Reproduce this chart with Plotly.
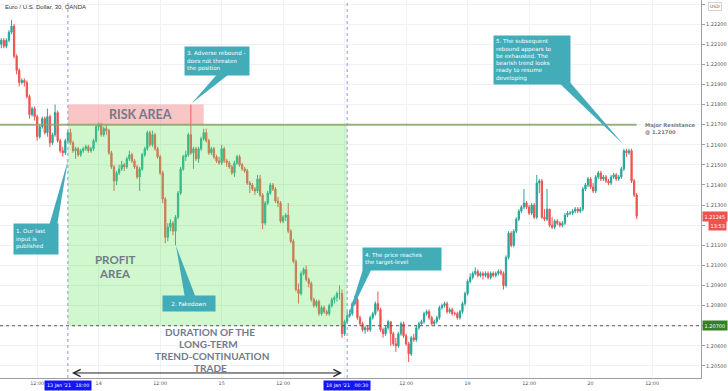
import plotly.graph_objects as go

# ---------------- data (EUR/USD, 30-min bars, OANDA) ----------------
first_open = 1.2210
close = [
    1.2212, 1.2209, 1.2212, 1.2216, 1.2219, 1.2204, 1.2197, 1.2191, 1.2192, 1.2191,
    1.2184, 1.2175, 1.2178, 1.2174, 1.2164, 1.2169, 1.2173, 1.2166, 1.2174, 1.2161,
    1.2165, 1.2176, 1.2162, 1.2157, 1.2156, 1.2162, 1.2166, 1.2161, 1.2157, 1.2158,
    1.2155, 1.2157, 1.2158, 1.2159, 1.2157, 1.2158, 1.2162, 1.2169, 1.2170, 1.2165,
    1.2168, 1.2167, 1.2156, 1.2149, 1.2142, 1.2146, 1.2148, 1.2150, 1.2149, 1.2153,
    1.2155, 1.2152, 1.2149, 1.2144, 1.2148, 1.2155, 1.2158, 1.2166, 1.2160, 1.2165,
    1.2158, 1.2154, 1.2146, 1.2133, 1.2114, 1.2119, 1.2121, 1.2117, 1.2124, 1.2136,
    1.2148, 1.2154, 1.2155, 1.2165, 1.2156, 1.2158, 1.2153, 1.2158, 1.2163, 1.2166,
    1.2162, 1.2156, 1.2158, 1.2154, 1.2152, 1.2151, 1.2158, 1.2152, 1.2151, 1.2149,
    1.2146, 1.2151, 1.2154, 1.2150, 1.2148, 1.2147, 1.2141, 1.2140, 1.2138, 1.2137,
    1.2143, 1.2135, 1.2121, 1.2131, 1.2136, 1.2140, 1.2138, 1.2132, 1.2131, 1.2122,
    1.2124, 1.2125, 1.2117, 1.2112, 1.2102, 1.2088, 1.2086, 1.2096, 1.2098, 1.2093,
    1.2091, 1.2083, 1.2080, 1.2082, 1.2076, 1.2079, 1.2077, 1.2076, 1.2080, 1.2083,
    1.2084, 1.2086, 1.2086, 1.2066, 1.2072, 1.2075, 1.2076, 1.2081, 1.2083, 1.2074,
    1.2071, 1.2068, 1.2069, 1.2068, 1.2074, 1.2076, 1.2081, 1.2078, 1.2068, 1.2066,
    1.2069, 1.2072, 1.2066, 1.2061, 1.2060, 1.2066, 1.2071, 1.2065, 1.2061, 1.2056,
    1.2064, 1.2063, 1.2069, 1.2071, 1.2072, 1.2076, 1.2077, 1.2074, 1.2071, 1.2072,
    1.2074, 1.2079, 1.2080, 1.2081, 1.2077, 1.2078, 1.2076, 1.2076, 1.2074, 1.2077,
    1.2081, 1.2086, 1.2092, 1.2094, 1.2096, 1.2097, 1.2095, 1.2096, 1.2095, 1.2096,
    1.2094, 1.2096, 1.2095, 1.2096, 1.2097, 1.2096, 1.2090, 1.2104, 1.2116, 1.2110,
    1.2117, 1.2123, 1.2127, 1.2129, 1.2131, 1.2129, 1.2126, 1.2130, 1.2124, 1.2141,
    1.2142, 1.2124, 1.2123, 1.2128, 1.2120, 1.2119, 1.2122, 1.2121, 1.2120, 1.2121,
    1.2125, 1.2126, 1.2126, 1.2127, 1.2128, 1.2127, 1.2128, 1.2138, 1.2140, 1.2143,
    1.2139, 1.2137, 1.2144, 1.2146, 1.2143, 1.2144, 1.2142, 1.2141, 1.2144, 1.2145,
    1.2143, 1.2144, 1.2148, 1.2157, 1.2156, 1.2157, 1.2142, 1.2135, 1.21245,
]
high = [
    1.2213, 1.2213, 1.2213, 1.2217, 1.2222, 1.2220, 1.2205, 1.2198, 1.2193, 1.2193,
    1.2192, 1.2185, 1.2179, 1.2179, 1.2175, 1.2170, 1.2174, 1.2174, 1.2178, 1.2175,
    1.2166, 1.2180, 1.2177, 1.2163, 1.2159, 1.2163, 1.2167, 1.2168, 1.2162, 1.2159,
    1.2159, 1.2158, 1.2159, 1.2160, 1.2160, 1.2159, 1.2163, 1.2170, 1.2171, 1.2171,
    1.2169, 1.2170, 1.2168, 1.2157, 1.2150, 1.2147, 1.2150, 1.2152, 1.2151, 1.2154,
    1.2157, 1.2156, 1.2153, 1.2150, 1.2149, 1.2156, 1.2159, 1.2167, 1.2167, 1.2167,
    1.2166, 1.2159, 1.2155, 1.2147, 1.2134, 1.2121, 1.2123, 1.2122, 1.2125, 1.2137,
    1.2149, 1.2155, 1.2157, 1.2166, 1.2180, 1.2159, 1.2159, 1.2159, 1.2164, 1.2168,
    1.2168, 1.2163, 1.2159, 1.2159, 1.2155, 1.2154, 1.2160, 1.2159, 1.2153, 1.2152,
    1.2150, 1.2152, 1.2155, 1.2155, 1.2151, 1.2149, 1.2148, 1.2142, 1.2141, 1.2139,
    1.2145, 1.2145, 1.2136, 1.2132, 1.2137, 1.2141, 1.2141, 1.2139, 1.2134, 1.2132,
    1.2125, 1.2126, 1.2131, 1.2118, 1.2113, 1.2103, 1.2091, 1.2097, 1.2099, 1.2100,
    1.2094, 1.2092, 1.2084, 1.2083, 1.2083, 1.2080, 1.2080, 1.2078, 1.2081, 1.2084,
    1.2085, 1.2087, 1.2090, 1.2088, 1.2073, 1.2077, 1.2078, 1.2082, 1.2085, 1.2084,
    1.2075, 1.2072, 1.2070, 1.2070, 1.2075, 1.2077, 1.2082, 1.2087, 1.2079, 1.2069,
    1.2070, 1.2073, 1.2072, 1.2067, 1.2064, 1.2067, 1.2072, 1.2072, 1.2066, 1.2062,
    1.2065, 1.2066, 1.2070, 1.2072, 1.2073, 1.2077, 1.2078, 1.2078, 1.2075, 1.2073,
    1.2075, 1.2080, 1.2081, 1.2082, 1.2082, 1.2079, 1.2079, 1.2077, 1.2077, 1.2078,
    1.2082, 1.2087, 1.2093, 1.2096, 1.2097, 1.2099, 1.2098, 1.2097, 1.2097, 1.2097,
    1.2097, 1.2097, 1.2097, 1.2097, 1.2098, 1.2098, 1.2097, 1.2105, 1.2117, 1.2117,
    1.2118, 1.2124, 1.2128, 1.2130, 1.2138, 1.2132, 1.2130, 1.2131, 1.2131, 1.2145,
    1.2143, 1.2143, 1.2128, 1.2138, 1.2128, 1.2124, 1.2123, 1.2123, 1.2122, 1.2122,
    1.2126, 1.2127, 1.2127, 1.2128, 1.2129, 1.2129, 1.2129, 1.2139, 1.2141, 1.2144,
    1.2144, 1.2141, 1.2145, 1.2147, 1.2147, 1.2145, 1.2145, 1.2143, 1.2145, 1.2146,
    1.2146, 1.2145, 1.2149, 1.2158, 1.2158, 1.2158, 1.2158, 1.2143, 1.2136,
]
low = [
    1.2208, 1.2208, 1.2208, 1.2211, 1.2215, 1.2203, 1.2195, 1.2189, 1.2190, 1.2189,
    1.2183, 1.2173, 1.2174, 1.2172, 1.2162, 1.2163, 1.2168, 1.2165, 1.2164, 1.2159,
    1.2160, 1.2164, 1.2161, 1.2156, 1.2154, 1.2155, 1.2161, 1.2160, 1.2156, 1.2153,
    1.2154, 1.2154, 1.2156, 1.2157, 1.2156, 1.2156, 1.2157, 1.2161, 1.2167, 1.2164,
    1.2164, 1.2165, 1.2155, 1.2148, 1.2137, 1.2140, 1.2145, 1.2147, 1.2147, 1.2148,
    1.2152, 1.2151, 1.2148, 1.2143, 1.2137, 1.2147, 1.2154, 1.2157, 1.2159, 1.2159,
    1.2157, 1.2153, 1.2145, 1.2131, 1.2111, 1.2112, 1.2117, 1.2115, 1.2110, 1.2123,
    1.2135, 1.2147, 1.2152, 1.2154, 1.2155, 1.2148, 1.2152, 1.2151, 1.2157, 1.2162,
    1.2161, 1.2155, 1.2155, 1.2153, 1.2151, 1.2150, 1.2150, 1.2151, 1.2149, 1.2148,
    1.2145, 1.2144, 1.2150, 1.2149, 1.2147, 1.2146, 1.2140, 1.2136, 1.2137, 1.2135,
    1.2136, 1.2134, 1.2118, 1.2120, 1.2130, 1.2135, 1.2137, 1.2131, 1.2129, 1.2121,
    1.2121, 1.2122, 1.2116, 1.2111, 1.2101, 1.2087, 1.2081, 1.2085, 1.2095, 1.2092,
    1.2089, 1.2082, 1.2079, 1.2079, 1.2075, 1.2075, 1.2076, 1.2075, 1.2075, 1.2079,
    1.2081, 1.2082, 1.2083, 1.2064, 1.2065, 1.2071, 1.2074, 1.2075, 1.2080, 1.2073,
    1.2070, 1.2067, 1.2066, 1.2067, 1.2067, 1.2073, 1.2075, 1.2077, 1.2067, 1.2064,
    1.2065, 1.2068, 1.2060, 1.2060, 1.2057, 1.2059, 1.2065, 1.2064, 1.2060, 1.2052,
    1.2055, 1.2062, 1.2062, 1.2068, 1.2070, 1.2071, 1.2075, 1.2073, 1.2070, 1.2070,
    1.2071, 1.2073, 1.2078, 1.2079, 1.2076, 1.2076, 1.2075, 1.2075, 1.2073, 1.2073,
    1.2076, 1.2080, 1.2085, 1.2091, 1.2093, 1.2095, 1.2094, 1.2094, 1.2093, 1.2094,
    1.2093, 1.2093, 1.2094, 1.2094, 1.2095, 1.2095, 1.2088, 1.2089, 1.2103, 1.2109,
    1.2109, 1.2116, 1.2122, 1.2126, 1.2128, 1.2128, 1.2125, 1.2125, 1.2123, 1.2123,
    1.2136, 1.2123, 1.2122, 1.2122, 1.2119, 1.2118, 1.2118, 1.2120, 1.2119, 1.2119,
    1.2120, 1.2124, 1.2125, 1.2125, 1.2126, 1.2126, 1.2126, 1.2127, 1.2137, 1.2139,
    1.2138, 1.2136, 1.2136, 1.2143, 1.2142, 1.2142, 1.2141, 1.2140, 1.2140, 1.2143,
    1.2142, 1.2142, 1.2143, 1.2147, 1.2154, 1.2155, 1.2141, 1.2134, 1.2123,
]
open_ = [first_open] + close[:-1]
bars = list(range(len(close)))

time_tick_bars = [14, 38, 62, 86, 110, 134, 158, 182, 206, 230, 254]
time_tick_labels = ["12:00", "14", "12:00", "15", "12:00", "", "12:00", "19", "12:00", "20", "12:00"]
price_ticks = [1.205, 1.206, 1.207, 1.208, 1.209, 1.210, 1.211, 1.212, 1.213, 1.214,
               1.215, 1.216, 1.217, 1.218, 1.219, 1.220, 1.221, 1.222, 1.223]
# labels hidden behind the price-axis badges are left blank
price_tick_labels = ["1.20500", "1.20600", "", "1.20800", "1.20900", "1.21000", "1.21100", "", "1.21300",
                     "1.21400", "1.21500", "1.21600", "1.21700", "1.21800", "1.21900", "1.22000",
                     "1.22100", "1.22200", ""]

entry_bar, entry_label = 26, "13 Jan '21   18:00"
target_bar, target_label = 135, "18 Jan '21   00:30"
risk_end_bar = 79
resistance = 1.2170
risk_top = 1.2180
target_level = 1.2070
last_price = 1.21245
countdown = "13:53"
arrow_level = 1.20465
arrow_start_bar, arrow_end_bar = 27, 133
last_bar = 248

callouts = [
    ("1. Our last<br>input is<br>published", "left"),
    ("2. Fakedown", "center"),
    ("3. Adverse rebound -<br>does not threaten<br>the position", "left"),
    ("4. The price reaches<br>the target-level", "left"),
    ("5. The subsequent<br>rebound appears to<br>be exhausted. The<br>bearish trend looks<br>ready to resume<br>developing", "left"),
]
# box (x0, y0, w, h) and tail (base a, base b, tip) in plot-area pixels
callout_boxes = [(13, 223, 44, 30), (162, 295, 52, 15), (184, 46, 64, 28), (362, 247, 78, 22), (493, 35, 76, 48)]
callout_tails = [
    ((49, 226), (57, 226), (68, 160)),
    ((185, 298), (196, 298), (176, 246)),
    ((220, 71), (233, 71), (192, 103)),
    ((364, 266), (373, 266), (347, 320)),
    ((556, 80), (568, 80), (623, 144)),
]

# ---------------- figure ----------------
W, H = 728, 391
ML, MR, MT, MB = 0, 27, 0, 13
PW, PH = W - ML - MR, H - MT - MB

def px(x):
    return x / PW

def py(y):
    return 1 - y / PH

TEAL = "#42adb9"
GREY_TXT = "#727a8b"

fig = go.Figure()
fig.add_trace(go.Candlestick(
    x=bars, open=open_, high=high, low=low, close=close,
    increasing=dict(line=dict(color="#26a69a", width=1), fillcolor="#26a69a"),
    decreasing=dict(line=dict(color="#ef5350", width=1), fillcolor="#ef5350"),
    whiskerwidth=0, showlegend=False, hoverinfo="skip",
))

shapes = [
    dict(type="rect", xref="x", yref="y", x0=entry_bar, x1=target_bar, y0=target_level, y1=resistance,
         fillcolor="rgba(100,230,90,0.30)", line=dict(width=0), layer="above"),
    dict(type="rect", xref="x", yref="y", x0=entry_bar, x1=risk_end_bar, y0=resistance, y1=risk_top,
         fillcolor="rgba(242,110,110,0.40)", line=dict(width=0), layer="above"),
    dict(type="line", xref="paper", yref="y", x0=0, x1=1, y0=target_level, y1=target_level,
         line=dict(color="#555555", width=1, dash="dot"), layer="above"),
    dict(type="line", xref="x", yref="y", x0=-0.5, x1=last_bar, y0=resistance, y1=resistance,
         line=dict(color="rgba(135,165,105,0.85)", width=2), layer="above"),
    dict(type="line", xref="x", yref="paper", x0=entry_bar, x1=entry_bar, y0=0, y1=1,
         line=dict(color="#9094e4", width=1, dash="dot"), layer="above"),
    dict(type="line", xref="x", yref="paper", x0=target_bar, x1=target_bar, y0=0, y1=1,
         line=dict(color="#9094e4", width=1, dash="dot"), layer="above"),
]
for (a, b, t) in callout_tails:
    path = f"M {px(a[0])},{py(a[1])} L {px(b[0])},{py(b[1])} L {px(t[0])},{py(t[1])} Z"
    shapes.append(dict(type="path", xref="paper", yref="paper", path=path,
                       fillcolor=TEAL, line=dict(width=0), layer="above"))

annotations = []
# title
annotations.append(dict(x=px(3), y=py(2), xref="paper", yref="paper", xanchor="left", yanchor="top",
                        text="Euro / U.S. Dollar, 30, OANDA", showarrow=False,
                        font=dict(family="Liberation Sans", size=6, color="#333333")))
# callout boxes
for (text, al), (bx, by, bw, bh) in zip(callouts, callout_boxes):
    pad = 2
    annotations.append(dict(x=px(bx), y=py(by), xref="paper", yref="paper", xanchor="left", yanchor="top",
                            text=text, showarrow=False, align=al, valign="middle",
                            width=bw - 2 * pad, height=bh - 2 * pad, borderpad=pad,
                            bgcolor=TEAL, font=dict(family="DejaVu Sans", size=5.6, color="white")))
# big labels
def big(txt, x, y, size):
    annotations.append(dict(x=px(x), y=py(y), xref="paper", yref="paper", xanchor="center", yanchor="middle",
                            text=f"<b>{txt}</b>", showarrow=False, borderpad=0,
                            font=dict(family="Lato", size=size, color=GREY_TXT)))

big("RISK AREA", 140, 115, 12.5)
big("PROFIT", 115, 259.5, 11.5)
big("AREA", 115, 273.5, 11.5)
big("DURATION OF THE", 210, 331.5, 10)
big("LONG-TERM", 208, 343.5, 10)
big("TREND-CONTINUATION", 212, 355.5, 10)
big("TRADE", 210, 367.5, 10)

annotations.append(dict(x=px(643), y=py(120), xref="paper", yref="paper", xanchor="left", yanchor="top",
                        text="<b>Major Resistance<br>@ 1.21700</b>", showarrow=False, align="left",
                        font=dict(family="DejaVu Sans", size=5.2, color=GREY_TXT)))
# duration arrow
annotations.append(dict(x=arrow_end_bar, y=arrow_level, ax=arrow_start_bar, ay=arrow_level,
                        xref="x", yref="y", axref="x", ayref="y", text="", showarrow=True,
                        arrowside="end+start", arrowhead=5, startarrowhead=5,
                        arrowsize=1.4, startarrowsize=1.4, arrowwidth=1, arrowcolor="#222222"))
# blue time labels on the axis
for b, lab in [(entry_bar, entry_label), (target_bar, target_label)]:
    annotations.append(dict(x=b, y=py(385), xref="x", yref="paper", xanchor="center", yanchor="middle",
                            text=lab, showarrow=False, bgcolor="#1414ff", borderpad=2,
                            font=dict(family="DejaVu Sans", size=4.8, color="white")))
# price-axis labels
annotations.append(dict(x=px(702), y=last_price, xref="paper", yref="y", xanchor="left", yanchor="middle",
                        text=f"{last_price:.5f}", showarrow=False, bgcolor="#ef5350", borderpad=1.5,
                        font=dict(family="DejaVu Sans", size=5, color="white")))
annotations.append(dict(x=px(727), y=py(225), xref="paper", yref="paper", xanchor="right", yanchor="middle",
                        text=countdown, showarrow=False, bgcolor="#ef5350", borderpad=1.5,
                        font=dict(family="DejaVu Sans", size=5, color="white")))
annotations.append(dict(x=px(702), y=target_level, xref="paper", yref="y", xanchor="left", yanchor="middle",
                        text=f"{target_level:.5f}", showarrow=False, bgcolor="#3a7d22", borderpad=1.5,
                        font=dict(family="DejaVu Sans", size=5, color="white")))
annotations.append(dict(x=px(708), y=py(2), xref="paper", yref="paper", xanchor="left", yanchor="top",
                        text="USD", showarrow=False, bgcolor="white", bordercolor="#d0d3da", borderwidth=1,
                        borderpad=1, font=dict(family="DejaVu Sans", size=4.5, color="#555555")))

fig.update_layout(
    width=W, height=H, margin=dict(l=ML, r=MR, t=MT, b=MB),
    paper_bgcolor="white", plot_bgcolor="white", showlegend=False,
    shapes=shapes, annotations=annotations,
    xaxis=dict(range=[-0.5, 273.1], rangeslider=dict(visible=False), tickvals=time_tick_bars,
               ticktext=time_tick_labels, showgrid=True, gridcolor="#eef1f5", gridwidth=1,
               zeroline=False, showline=True, linecolor="#9a9ea6", linewidth=1, ticks="",
               tickfont=dict(family="DejaVu Sans", size=4.8, color="#555555"), automargin=False),
    yaxis=dict(range=[1.2044, 1.2232], side="right", tickvals=price_ticks, ticktext=price_tick_labels,
               showgrid=True, gridcolor="#eef1f5", gridwidth=1, zeroline=False, showline=True,
               linecolor="#9a9ea6", linewidth=1, ticks="outside", ticklen=3, tickcolor="#9a9ea6",
               tickfont=dict(family="DejaVu Sans", size=5, color="#555555"), automargin=False),
)

fig.write_html(
    "out.html",
    config={"displayModeBar": False},
    post_script="document.body.style.margin='0';document.body.style.padding='0';",
)
